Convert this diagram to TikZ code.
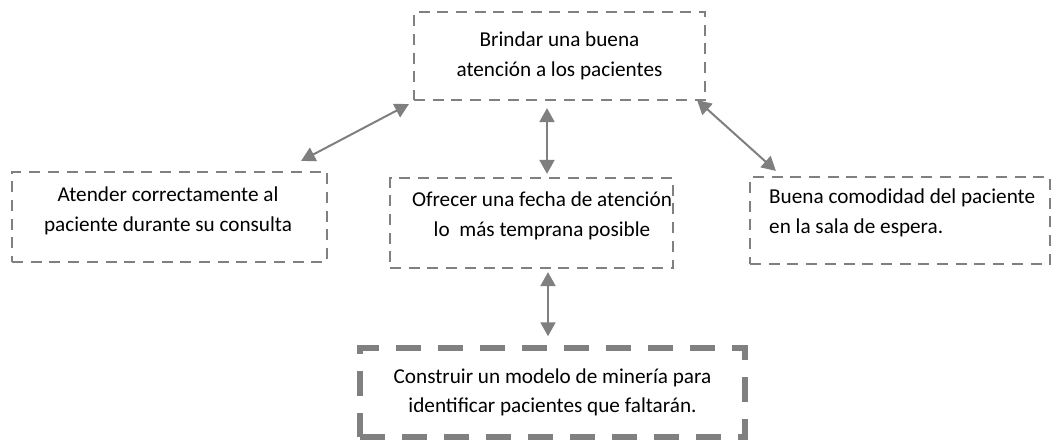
\documentclass[tikz,border=0pt]{standalone}
\usepackage{fontspec}
\setmainfont{Carlito}
\usetikzlibrary{arrows.meta}
\definecolor{boxgray}{HTML}{808080}
\definecolor{arrowgray}{HTML}{7F7F7F}
\begin{document}
\begin{tikzpicture}[x=1pt,y=-1pt,
  thinbox/.style={draw=boxgray, line width=2.2pt, dash pattern=on 11pt off 7.7pt, inner sep=0pt},
  thickbox/.style={draw=boxgray, line width=5.5pt, dash pattern=on 25pt off 17pt, inner sep=0pt},
  txt/.style={font=\fontsize{21.2}{29.5}\selectfont, align=center, inner sep=0pt},
  dblarrow/.style={draw=arrowgray, line width=2pt, {Triangle[length=14pt,width=15pt]}-{Triangle[length=14pt,width=15pt]}}
]
\useasboundingbox (0,0) rectangle (1057,441);

\node[thinbox, txt, minimum width=291pt, minimum height=88pt] (top) at (559.5,56)
  {Brindar una buena\\atención a los pacientes};

\node[thinbox, minimum width=315pt, minimum height=90pt] (left) at (169.5,217) {};
\node[txt] (lefttext) at (168,211) {Atender correctamente al\\paciente durante su consulta};

\node[thinbox, minimum width=283pt, minimum height=90pt] (mid) at (531.5,223) {};
\node[txt] (midtext) at (542,216) {Ofrecer una fecha de atención\\lo\ \ más temprana posible};

\node[thinbox, minimum width=300pt, minimum height=87pt] (right) at (900,220.5) {};
\node[txt, align=left, anchor=west] (righttext) at (769,213) {Buena comodidad del paciente\\en la sala de espera.};

\node[thickbox, txt, minimum width=385pt, minimum height=89pt] (bottom) at (552.5,392.5)
  {Construir un modelo de minería para\\identificar pacientes que faltarán.};

\draw[dblarrow] ([shift={(-4,3)}]top.south west) -- ([shift={(-27,-10)}]left.north east);
\draw[dblarrow] ([shift={(-12.5,7)}]top.south) -- ([shift={(15.5,-3)}]mid.north);
\draw[dblarrow] ([shift={(-9,-1)}]top.south east) -- ([shift={(27,-5)}]right.north west);
\draw[dblarrow] ([shift={(16.5,3)}]mid.south) -- ([shift={(-4.5,-9)}]bottom.north);
\end{tikzpicture}
\end{document}
